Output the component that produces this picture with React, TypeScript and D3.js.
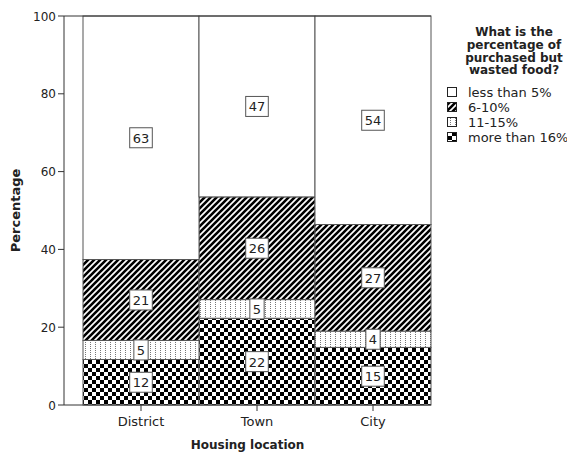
import React from "react";
import * as d3 from "d3";

const categories = ["District", "Town", "City"];
const moreThan16 = [11.7, 22.3, 14.8];
const pct11to15 = [4.9, 4.8, 4.2];
const pct6to10 = [20.8, 26.4, 27.4];
const lessThan5 = [62.6, 46.5, 53.6];
const yTicks = [0, 20, 40, 60, 80, 100];
const legendTitle = ["What is the", "percentage of", "purchased but", "wasted food?"];
const seriesKeys = ["more", "p11", "p6", "less"];
const seriesLabels: Record<string, string> = {
  less: "less than 5%",
  p6: "6-10%",
  p11: "11-15%",
  more: "more than 16%",
};
const legendOrder = ["less", "p6", "p11", "more"];
const fills: Record<string, string> = {
  less: "#ffffff",
  p6: "url(#hatch)",
  p11: "url(#dots)",
  more: "url(#checker)",
};

const W = 567;
const H = 455;
const FONT = "'DejaVu Sans', Verdana, sans-serif";

export default function App() {
  const table = categories.map((c, i) => ({
    cat: c,
    more: moreThan16[i],
    p11: pct11to15[i],
    p6: pct6to10[i],
    less: lessThan5[i],
  }));
  const stacked = d3.stack<any>().keys(seriesKeys)(table);
  const x = d3.scaleBand().domain(categories).range([83, 431]).padding(0);
  const y = d3.scaleLinear().domain([0, 100]).range([405, 16]);
  const left = 64;
  const right = 431;

  return (
    <svg
      width={W}
      height={H}
      style={{ position: "absolute", left: 0, top: 0, background: "#fff" }}
      fontFamily={FONT}
    >
      <defs>
        <pattern id="hatch" patternUnits="userSpaceOnUse" width={6} height={6}>
          <rect width={6} height={6} fill="#fff" />
          <path d="M-1,1 L1,-1 M0,6 L6,0 M5,7 L7,5" stroke="#000" strokeWidth={2.6} />
        </pattern>
        <pattern id="checker" patternUnits="userSpaceOnUse" width={8} height={8}>
          <rect width={8} height={8} fill="#fff" />
          <rect x={0} y={0} width={4} height={4} fill="#000" />
          <rect x={4} y={4} width={4} height={4} fill="#000" />
        </pattern>
        <pattern id="dots" patternUnits="userSpaceOnUse" width={5} height={2}>
          <rect width={5} height={2} fill="#fff" />
          <rect x={0} y={0} width={1} height={1} fill="#777" />
        </pattern>
      </defs>

      {/* bars */}
      {stacked.map((s) =>
        s.map((d, i) => (
          <rect
            key={s.key + i}
            x={x(categories[i])}
            y={y(d[1])}
            width={x.bandwidth()}
            height={y(d[0]) - y(d[1])}
            fill={fills[s.key]}
            stroke="#555"
            strokeWidth={1}
          />
        ))
      )}

      {/* frame / axes */}
      <line x1={left} x2={right} y1={16} y2={16} stroke="#333" />
      <line x1={left} x2={left} y1={16} y2={405} stroke="#333" />
      <line x1={left} x2={right} y1={405} y2={405} stroke="#333" />

      {yTicks.map((t) => (
        <g key={t}>
          <line x1={left - 6} x2={left} y1={y(t)} y2={y(t)} stroke="#333" />
          <text x={left - 8} y={y(t) + 4.5} fontSize={12} textAnchor="end" fill="#222">
            {t}
          </text>
        </g>
      ))}
      {categories.map((c) => {
        const cx = (x(c) as number) + x.bandwidth() / 2;
        return (
          <g key={c}>
            <line x1={cx} x2={cx} y1={405} y2={411} stroke="#333" />
            <text x={cx} y={426} fontSize={13} textAnchor="middle" fill="#222">
              {c}
            </text>
          </g>
        );
      })}

      {/* value labels */}
      {stacked.map((s) =>
        s.map((d, i) => {
          const v = Math.round(d[1] - d[0]);
          const label = String(v);
          const tw = label.length * 8.3;
          const cx = (x(categories[i]) as number) + x.bandwidth() / 2;
          const cy = (y(d[0]) + y(d[1])) / 2;
          return (
            <g key={"l" + s.key + i}>
              <rect
                x={cx - tw / 2 - 3}
                y={cy - 10}
                width={tw + 6}
                height={20}
                fill="#fff"
                stroke="#555"
                strokeWidth={1}
              />
              <text x={cx} y={cy + 5} fontSize={13} textAnchor="middle" fill="#222">
                {label}
              </text>
            </g>
          );
        })
      )}

      {/* axis titles */}
      <text x={247.5} y={449} fontSize={12} fontWeight="bold" textAnchor="middle" fill="#222">
        Housing location
      </text>
      <text
        transform={`translate(20,210.5) rotate(-90)`}
        fontSize={13}
        fontWeight="bold"
        textAnchor="middle"
        fill="#222"
      >
        Percentage
      </text>

      {/* legend */}
      {legendTitle.map((t, i) => (
        <text
          key={t}
          x={514}
          y={36 + i * 12.8}
          fontSize={12}
          fontWeight="bold"
          textAnchor="middle"
          fill="#222"
        >
          {t}
        </text>
      ))}
      {legendOrder.map((k, i) => {
        const cy = 92 + i * 15;
        return (
          <g key={k}>
            <rect x={447.5} y={cy - 4.5} width={9} height={9} fill={fills[k]} stroke="#222" />
            <text x={468} y={cy + 4.5} fontSize={13} fill="#222">
              {seriesLabels[k]}
            </text>
          </g>
        );
      })}
    </svg>
  );
}
